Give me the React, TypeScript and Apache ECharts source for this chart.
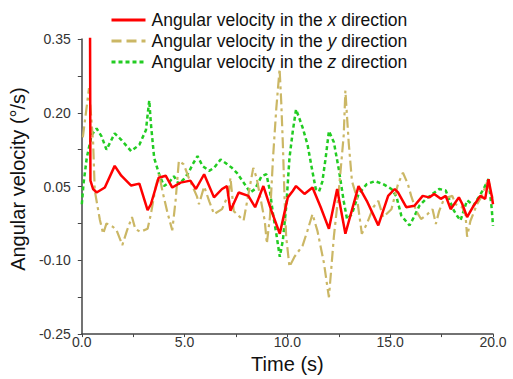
import React, { useEffect, useRef } from "react";
import * as echarts from "echarts";

const seriesNames = [
  "Angular velocity in the {i|x} direction",
  "Angular velocity in the {i|y} direction",
  "Angular velocity in the {i|z} direction",
];

const yTickMin = -0.25;
const yTickMax = 0.35;
const yTickStep = 0.15;
const xTickMin = 0;
const xTickMax = 20;
const xTickStep = 5;

const timeX = [0.4, 0.42, 0.55, 0.72, 1.12, 1.6, 1.92, 2.4, 2.8, 3.2, 3.36, 3.74, 4.08, 4.4, 4.8, 5.28, 5.55, 5.95, 6.43, 6.82, 7.06, 7.23, 7.63, 8.1, 8.43, 8.83, 9.22, 9.63, 10.02, 10.26, 10.42, 10.83, 11.22, 11.62, 12.02, 12.42, 12.82, 13.46, 13.86, 14.42, 14.9, 15.22, 15.38, 15.78, 16.18, 16.58, 16.9, 17.14, 17.46, 17.7, 17.94, 18.34, 18.5, 18.74, 19.06, 19.38, 19.62, 19.78, 19.94, 20.0];
const valueX = [0.37, 0.062, 0.045, 0.038, 0.048, 0.092, 0.072, 0.052, 0.056, 0.002, 0.014, 0.068, 0.072, 0.048, 0.058, 0.062, 0.045, 0.075, 0.028, 0.045, 0.051, 0.001, 0.038, 0.031, 0.008, 0.051, 0.001, -0.046, 0.028, 0.041, 0.051, 0.035, 0.048, 0.008, -0.036, 0.045, -0.046, 0.051, 0.021, -0.029, 0.031, 0.045, 0.038, 0.008, 0.011, 0.031, 0.028, 0.035, 0.025, 0.031, 0.004, 0.028, 0.015, -0.012, 0.011, 0.031, 0.025, 0.065, 0.031, 0.014];

const timeY = [0.05, 0.35, 0.55, 0.63, 0.88, 1.04, 1.2, 1.52, 1.7, 1.97, 2.2, 2.44, 2.6, 2.84, 3.2, 3.36, 3.6, 3.76, 3.92, 4.16, 4.4, 4.56, 4.72, 4.96, 5.2, 5.6, 5.7, 5.95, 6.2, 6.43, 6.82, 7.14, 7.23, 7.39, 7.87, 8.34, 8.5, 8.9, 9.0, 9.15, 9.3, 9.46, 9.62, 9.7, 9.78, 9.86, 9.94, 10.1, 10.34, 10.74, 10.98, 11.22, 11.46, 11.78, 11.94, 12.02, 12.26, 12.5, 12.74, 12.82, 12.98, 13.14, 13.38, 13.62, 13.86, 14.18, 14.42, 14.66, 15.06, 15.38, 15.62, 15.86, 16.02, 16.26, 16.5, 16.82, 17.06, 17.22, 17.38, 17.62, 18.02, 18.18, 18.5, 18.66, 18.74, 18.9, 19.22, 19.46, 19.7, 19.94, 20.0];
const valueY = [0.15, 0.25, 0.14, 0.042, -0.018, -0.046, -0.025, -0.032, -0.04, -0.069, -0.039, -0.012, -0.036, -0.042, -0.036, -0.006, 0.051, 0.075, 0.041, -0.002, -0.039, 0.021, 0.102, 0.095, 0.068, 0.03, 0.014, 0.05, 0.02, -0.006, 0.004, 0.035, 0.068, 0.0, -0.019, 0.088, 0.068, -0.02, -0.066, -0.012, 0.108, 0.209, 0.289, 0.222, 0.135, 0.028, -0.052, -0.113, -0.093, -0.07, -0.039, -0.006, -0.04, -0.106, -0.153, -0.175, -0.052, 0.041, 0.155, 0.245, 0.14, 0.061, 0.028, -0.046, -0.026, 0.008, 0.021, -0.012, 0.004, 0.055, 0.078, 0.055, 0.031, 0.001, -0.016, -0.006, 0.004, -0.026, 0.0, 0.025, 0.031, 0.014, 0.008, -0.006, -0.052, -0.02, 0.014, 0.031, 0.058, 0.035, 0.018];

const timeZ = [0.0, 0.08, 0.24, 0.48, 0.72, 0.96, 1.2, 1.6, 1.92, 2.4, 2.8, 3.12, 3.28, 3.36, 3.52, 3.76, 4.0, 4.24, 4.48, 4.72, 4.96, 5.19, 5.39, 5.63, 5.87, 6.19, 6.43, 6.75, 6.99, 7.3, 7.54, 7.87, 8.19, 8.43, 8.74, 8.98, 9.15, 9.3, 9.46, 9.63, 9.78, 9.94, 10.1, 10.26, 10.42, 10.74, 10.98, 11.22, 11.38, 11.54, 11.7, 11.86, 12.02, 12.26, 12.5, 12.74, 12.9, 13.14, 13.46, 13.86, 14.26, 14.66, 15.06, 15.3, 15.54, 15.94, 16.18, 16.42, 16.74, 17.06, 17.38, 17.7, 17.86, 18.1, 18.26, 18.42, 18.74, 19.06, 19.3, 19.54, 19.78, 19.94, 20.0];
const valueZ = [0.014, 0.055, 0.108, 0.155, 0.168, 0.152, 0.125, 0.158, 0.145, 0.122, 0.135, 0.165, 0.225, 0.178, 0.108, 0.075, 0.051, 0.058, 0.071, 0.055, 0.065, 0.078, 0.095, 0.112, 0.092, 0.082, 0.088, 0.105, 0.098, 0.088, 0.078, 0.058, 0.038, 0.045, 0.071, 0.075, 0.041, -0.006, -0.046, -0.093, -0.059, 0.008, 0.108, 0.162, 0.207, 0.17, 0.135, 0.08, 0.045, 0.04, 0.06, 0.108, 0.163, 0.14, 0.085, 0.02, -0.016, -0.006, 0.035, 0.055, 0.061, 0.055, 0.045, 0.03, -0.009, -0.029, -0.01, 0.011, 0.025, 0.035, 0.045, 0.042, 0.025, 0.001, -0.01, -0.019, 0.022, 0.012, 0.028, 0.045, 0.065, 0.004, -0.03];

const pair = (ts: number[], vs: number[]) => ts.map((t, i) => [t, vs[i]]);

const FONT = "Liberation Sans, Arial, sans-serif";

export default function App() {
  const ref = useRef<HTMLDivElement>(null);
  useEffect(() => {
    if (!ref.current) return;
    const chart = echarts.init(ref.current, undefined, { renderer: "svg" });
    const lineStyles = [
      { color: "#ff0000", width: 2.5, type: "solid" as any },
      { color: "#cbb765", width: 2.2, type: [11, 4, 3, 4] as any },
      { color: "#22cc22", width: 2.5, type: [4, 3] as any },
    ];
    const legendLineStyles = [
      { color: "#ff0000", width: 3, type: "solid" as any },
      { color: "#cbb765", width: 3, type: [10, 5] as any },
      { color: "#22cc22", width: 3, type: [4, 3] as any },
    ];
    const datasets = [pair(timeX, valueX), pair(timeY, valueY), pair(timeZ, valueZ)];
    chart.setOption({
      animation: false,
      textStyle: { fontFamily: FONT },
      grid: { left: 77, right: 20, top: 39, bottom: 41, containLabel: false },
      legend: {
        orient: "vertical",
        left: 105,
        top: 6,
        itemWidth: 34,
        itemHeight: 14,
        itemGap: 3,
        itemStyle: { opacity: 0, borderWidth: 0 },
        formatter: (name: string) => name,
        textStyle: {
          fontSize: 17.5,
          color: "#111",
          fontFamily: FONT,
          padding: [0, 0, 0, 1],
          rich: { i: { fontStyle: "italic", fontSize: 17.5, color: "#111", fontFamily: FONT } },
        },
      },
      xAxis: {
        type: "value",
        min: xTickMin,
        max: xTickMax,
        interval: xTickStep,
        name: "Time (s)",
        nameLocation: "middle",
        nameGap: 19,
        nameTextStyle: { fontSize: 20, color: "#111", fontFamily: FONT },
        axisLine: { show: true, onZero: false, lineStyle: { color: "#444", width: 1.5 } },
        axisTick: { show: true, inside: false, length: 3, lineStyle: { color: "#444" } },
        minorTick: { show: true, splitNumber: 2, length: 3, lineStyle: { color: "#444" } },
        splitLine: { show: false },
        axisLabel: { fontSize: 14, color: "#333", margin: 1, formatter: (v: number) => v.toFixed(1), fontFamily: FONT },
      },
      yAxis: {
        type: "value",
        min: yTickMin,
        max: yTickMax,
        interval: yTickStep,
        name: "Angular velocity (°/s)",
        nameLocation: "middle",
        nameGap: 38,
        nameTextStyle: { fontSize: 20, color: "#111", fontFamily: FONT, padding: [0, 0, 0, 15] },
        axisLine: { show: true, onZero: false, lineStyle: { color: "#444", width: 1.5 } },
        axisTick: { show: true, inside: false, length: 4, lineStyle: { color: "#444" } },
        minorTick: { show: true, splitNumber: 2, length: 4, lineStyle: { color: "#444" } },
        splitLine: { show: false },
        axisLabel: { fontSize: 14, color: "#333", margin: 11, formatter: (v: number) => v.toFixed(2), fontFamily: FONT },
      },
      series: seriesNames.map((n, i) => ({
        name: n,
        type: "line",
        data: datasets[i],
        symbol: "none",
        showSymbol: false,
        clip: true,
        lineStyle: lineStyles[i],
        itemStyle: { color: lineStyles[i].color },
        z: [3, 2, 1][i],
      })),
    });
    chart.setOption({
      legend: {
        data: seriesNames.map((n, i) => ({ name: n, lineStyle: legendLineStyles[i] })),
      },
    });
    return () => chart.dispose();
  }, []);
  return <div ref={ref} style={{ position: "absolute", left: 0, top: 0, width: 513, height: 379 }} />;
}
